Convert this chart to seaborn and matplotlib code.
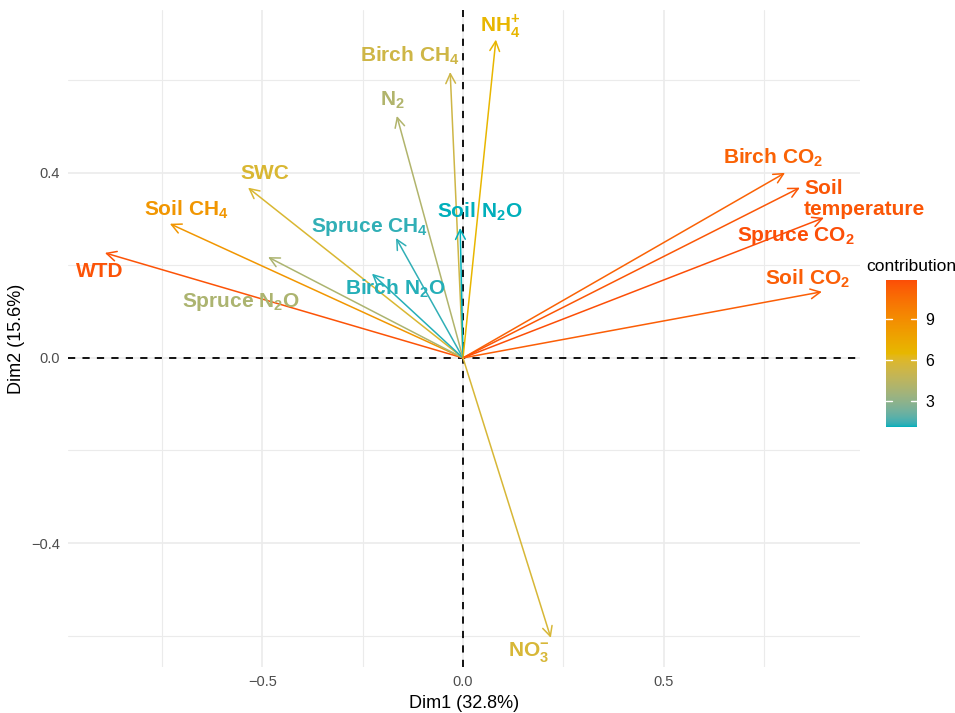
import numpy as np
import pandas as pd
import matplotlib
matplotlib.use("Agg")
import matplotlib.pyplot as plt
import seaborn as sns
from matplotlib.colors import ListedColormap, Normalize, to_rgb
from matplotlib.ticker import MultipleLocator

# --- data (PCA variable loadings) ---
variables = ["WTD", "Soil CH4", "SWC", "Spruce N2O", "Birch N2O", "Spruce CH4",
             "N2", "Birch CH4", "Soil N2O", "NH4+", "Birch CO2",
             "Soil temperature", "Spruce CO2", "Soil CO2", "NO3-"]
dim1 = [-0.893, -0.731, -0.536, -0.486, -0.227, -0.167,
        -0.165, -0.032, -0.007, 0.082, 0.803,
        0.840, 0.900, 0.895, 0.219]
dim2 = [0.227, 0.290, 0.368, 0.218, 0.182, 0.259,
        0.523, 0.618, 0.281, 0.688, 0.400,
        0.368, 0.303, 0.143, -0.605]
contribution = [11.7, 8.5, 5.8, 3.9, 1.2, 1.3,
                4.1, 5.3, 1.05, 6.6, 11.1,
                11.6, 11.9, 11.3, 5.7]

# label text (mathtext for sub/superscripts)
labels = ["WTD", r"Soil CH$_\mathbf{4}$", "SWC", r"Spruce N$_\mathbf{2}$O",
          r"Birch N$_\mathbf{2}$O", r"Spruce CH$_\mathbf{4}$", r"N$_\mathbf{2}$",
          r"Birch CH$_\mathbf{4}$", r"Soil N$_\mathbf{2}$O", r"NH$_\mathbf{4}^\mathbf{+}$",
          r"Birch CO$_\mathbf{2}$", "Soil\ntemperature", r"Spruce CO$_\mathbf{2}$",
          r"Soil CO$_\mathbf{2}$", r"NO$_\mathbf{3}^\mathbf{-}$"]
# repel-style offsets of label centre from the arrow tip (data units)
label_dx = [-0.012, 0.040, 0.042, -0.068, 0.057, -0.065, -0.012, -0.100, 0.049,
            0.010, -0.030, 0.162, -0.070, -0.035, -0.054]
label_dy = [-0.041, 0.030, 0.030, -0.097, -0.033, 0.024, 0.035, 0.035, 0.035,
            0.030, 0.032, -0.024, -0.039, 0.028, -0.031]

df = pd.DataFrame({"var": variables, "Dim1": dim1, "Dim2": dim2,
                   "contrib": contribution})

sns.set_theme(style="whitegrid")
plt.rcParams["font.family"] = ["Liberation Sans", "DejaVu Sans"]
plt.rcParams["mathtext.fontset"] = "custom"
plt.rcParams["mathtext.rm"] = "Liberation Sans"
plt.rcParams["mathtext.bf"] = "Liberation Sans:bold"


# ggplot's gradientn blends in Lab space, not RGB
def _to_lab(rgb):
    c = np.asarray(rgb, float)
    c = np.where(c > 0.04045, ((c + 0.055) / 1.055) ** 2.4, c / 12.92)
    M = np.array([[0.4124, 0.3576, 0.1805],
                  [0.2126, 0.7152, 0.0722],
                  [0.0193, 0.1192, 0.9505]])
    xyz = M @ c / np.array([0.95047, 1.0, 1.08883])
    f = np.where(xyz > 0.008856, np.cbrt(xyz), 7.787 * xyz + 16 / 116)
    return np.array([116 * f[1] - 16, 500 * (f[0] - f[1]), 200 * (f[1] - f[2])])


def _from_lab(lab):
    L, a, b = lab
    fy = (L + 16) / 116
    fx = fy + a / 500
    fz = fy - b / 200
    f = np.array([fx, fy, fz])
    xyz = np.where(f ** 3 > 0.008856, f ** 3, (f - 16 / 116) / 7.787)
    xyz = xyz * np.array([0.95047, 1.0, 1.08883])
    Minv = np.array([[3.2406, -1.5372, -0.4986],
                     [-0.9689, 1.8758, 0.0415],
                     [0.0557, -0.2040, 1.0570]])
    c = Minv @ xyz
    c = np.where(c > 0.0031308, 1.055 * np.clip(c, 0, None) ** (1 / 2.4) - 0.055, 12.92 * c)
    return np.clip(c, 0, 1)


stops = [_to_lab(to_rgb(c)) for c in ["#00AFBB", "#E7B800", "#FC4E07"]]
ramp = []
for t in np.linspace(0, 1, 256):
    seg = min(int(t * 2), 1)
    u = t * 2 - seg
    ramp.append(_from_lab(stops[seg] * (1 - u) + stops[seg + 1] * u))
cmap = ListedColormap(ramp)
norm = Normalize(vmin=df["contrib"].min(), vmax=df["contrib"].max())

W, H = 955, 713
fig = plt.figure(figsize=(W / 100, H / 100), dpi=100)
ax = fig.add_axes([68 / W, (H - 667) / H, (860 - 68) / W, (667 - 10) / H])

ax.set_xlim(-0.985, 0.99)
ax.set_ylim(-0.668, 0.752)
ax.set_facecolor("white")
for s in ax.spines.values():
    s.set_visible(False)

ax.xaxis.set_major_locator(MultipleLocator(0.5))
ax.xaxis.set_minor_locator(MultipleLocator(0.25))
ax.yaxis.set_major_locator(MultipleLocator(0.4))
ax.yaxis.set_minor_locator(MultipleLocator(0.2))
ax.grid(which="major", color="#EBEBEB", linewidth=1.2)
ax.grid(which="minor", color="#EBEBEB", linewidth=0.8)
ax.tick_params(which="major", length=3, width=1, color="#333333",
               labelsize=10.5, labelcolor="#4D4D4D", pad=3)
ax.tick_params(which="minor", length=0)
ax.set_xticks([-0.5, 0.0, 0.5])
ax.set_yticks([-0.4, 0.0, 0.4])
ax.set_xticklabels(["\u22120.5", "0.0", "0.5"])
ax.set_yticklabels(["\u22120.4", "0.0", "0.4"])
ax.set_xlabel("Dim1 (32.8%)", fontsize=13, color="black", labelpad=4)
ax.set_ylabel("Dim2 (15.6%)", fontsize=13, color="black", labelpad=4)

ax.axhline(0, color="black", linestyle=(0, (4, 4)), linewidth=1.3, zorder=1)
ax.axvline(0, color="black", linestyle=(0, (4, 4)), linewidth=1.3, zorder=1)

for i, row in df.iterrows():
    col = cmap(norm(row["contrib"]))
    ax.annotate("", xy=(row["Dim1"], row["Dim2"]), xytext=(0, 0),
                arrowprops=dict(arrowstyle="->,head_length=0.7,head_width=0.35",
                                color=col, lw=1.1, shrinkA=0, shrinkB=0,
                                mutation_scale=10), zorder=3)
    ax.text(row["Dim1"] + label_dx[i], row["Dim2"] + label_dy[i], labels[i],
            color=col, fontsize=15, fontweight="bold", ha="center", va="center",
            multialignment="left", linespacing=1.1, clip_on=False, zorder=4)

# colourbar legend
cax = fig.add_axes([886 / W, (H - 427) / H, 31 / W, 147 / H])
grad = np.linspace(norm.vmin, norm.vmax, 256).reshape(-1, 1)
cax.imshow(grad, aspect="auto", cmap=cmap, norm=norm, origin="lower",
           extent=[0, 1, norm.vmin, norm.vmax])
cax.set_xlim(0, 1)
cax.set_ylim(norm.vmin, norm.vmax)
for s in cax.spines.values():
    s.set_visible(False)
cax.grid(False)
cax.set_xticks([])
cax.yaxis.tick_right()
cax.set_yticks([3, 6, 9])
cax.tick_params(axis="y", length=0, labelsize=11.5, labelcolor="black", pad=6)
for t in [3, 6, 9]:
    cax.plot([0, 0.2], [t, t], color="white", lw=1)
    cax.plot([0.8, 1], [t, t], color="white", lw=1)
fig.text(866 / W, (H - 266) / H, "contribution", fontsize=12.5,
         ha="left", va="center", color="black")

fig.savefig("out.png", dpi=100, facecolor="white")
